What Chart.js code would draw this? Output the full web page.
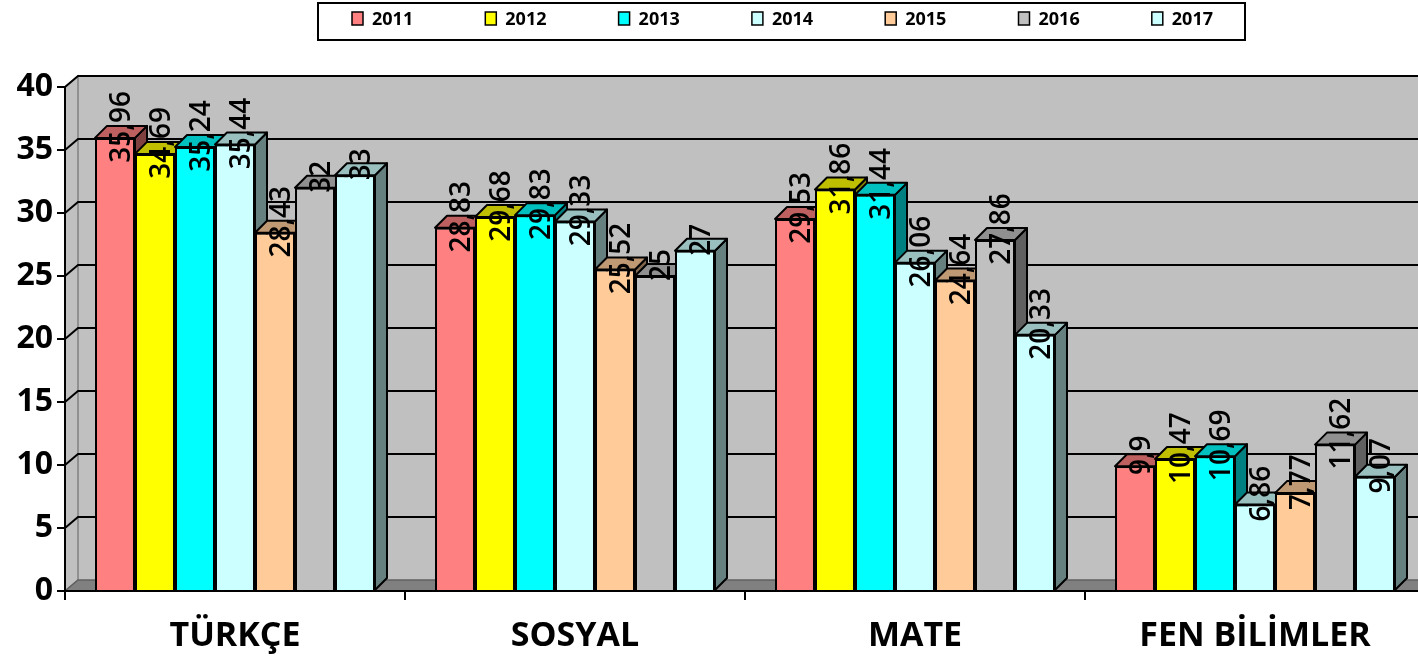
<!DOCTYPE html>
<html>
<head>
<meta charset="utf-8">
<script src="https://cdn.jsdelivr.net/npm/chart.js@4.4.1/dist/chart.umd.min.js"></script>
<style>
  html, body { margin: 0; padding: 0; background: #fff; overflow: hidden; }
  #wrap { width: 1430px; height: 659px; }
</style>
</head>
<body>
<div id="wrap"><canvas id="scoreChart" width="1430" height="659"></canvas></div>
<script>
const categories = ['TÜRKÇE', 'SOSYAL', 'MATE', 'FEN BİLİMLER'];
const years = ['2011', '2012', '2013', '2014', '2015', '2016', '2017'];

const scores2011 = [35.96, 28.83, 29.53, 9.9];
const scores2012 = [34.69, 29.68, 31.86, 10.47];
const scores2013 = [35.24, 29.83, 31.44, 10.69];
const scores2014 = [35.44, 29.33, 26.06, 6.86];
const scores2015 = [28.43, 25.52, 24.64, 7.77];
const scores2016 = [32, 25, 27.86, 11.62];
const scores2017 = [33, 27, 20.33, 9.07];

const yMin = 0;
const yMax = 40;
const yStep = 5;

const seriesValues = [scores2011, scores2012, scores2013, scores2014, scores2015, scores2016, scores2017];
const seriesColors = ['#FF8080', '#FFFF00', '#00FFFF', '#CCFFFF', '#FFCC99', '#C0C0C0', '#CCFFFF'];

// 3D depth offsets (px)
const BAR_DX = 12, BAR_DY = 12;
const WALL_DX = 13, WALL_DY = 11;

/**
 * Darken a hex colour by a factor
 */
function shade(hex, f) {
  const n = parseInt(hex.slice(1), 16);
  const r = Math.round(((n >> 16) & 255) * f);
  const g = Math.round(((n >> 8) & 255) * f);
  const b = Math.round((n & 255) * f);
  return `rgb(${r}, ${g}, ${b})`;
}

function formatValue(v) {
  return String(v).replace('.', ',');
}

/**
 * Back wall, left wall, floor and wall gridlines
 */
const wallPlugin = {
  id: 'wall3d',
  beforeDraw(chart) {
    const { ctx, chartArea, scales } = chart;
    const y = scales.y;
    const left = chartArea.left, right = chartArea.right;
    const top = chartArea.top, bottom = chartArea.bottom;
    ctx.save();

    // back wall
    ctx.fillStyle = '#C0C0C0';
    ctx.fillRect(left + WALL_DX, top - WALL_DY, right - left + 40, bottom - top);

    // left wall
    ctx.beginPath();
    ctx.moveTo(left, top);
    ctx.lineTo(left + WALL_DX, top - WALL_DY);
    ctx.lineTo(left + WALL_DX, bottom - WALL_DY);
    ctx.lineTo(left, bottom);
    ctx.closePath();
    ctx.fillStyle = '#C0C0C0';
    ctx.fill();
    ctx.strokeStyle = '#808080';
    ctx.lineWidth = 1.5;
    ctx.stroke();

    // floor
    ctx.beginPath();
    ctx.moveTo(left, bottom);
    ctx.lineTo(left + WALL_DX, bottom - WALL_DY);
    ctx.lineTo(right + 40, bottom - WALL_DY);
    ctx.lineTo(right + 40, bottom);
    ctx.closePath();
    ctx.fillStyle = '#808080';
    ctx.fill();
    ctx.strokeStyle = '#606060';
    ctx.stroke();

    // gridlines on the walls
    ctx.strokeStyle = '#000';
    ctx.lineWidth = 2;
    for (let v = yMin + yStep; v <= yMax; v += yStep) {
      const py = y.getPixelForValue(v);
      ctx.beginPath();
      ctx.moveTo(left, py);
      ctx.lineTo(left + WALL_DX, py - WALL_DY);
      ctx.lineTo(right + 40, py - WALL_DY);
      ctx.stroke();
    }
    ctx.restore();
  },

  // side and top faces go under the front faces drawn by Chart.js
  beforeDatasetsDraw(chart) {
    const { ctx } = chart;
    const nCats = chart.data.labels.length;
    ctx.save();
    ctx.strokeStyle = '#000';
    ctx.lineWidth = 2;
    ctx.lineJoin = 'round';
    for (let c = 0; c < nCats; c++) {
      chart.data.datasets.forEach((ds, i) => {
        const bar = chart.getDatasetMeta(i).data[c];
        const p = bar.getProps(['x', 'y', 'base', 'width'], true);
        const x0 = p.x - p.width / 2, x1 = p.x + p.width / 2;
        const color = ds.backgroundColor;

        // side
        ctx.beginPath();
        ctx.moveTo(x1, p.y);
        ctx.lineTo(x1 + BAR_DX, p.y - BAR_DY);
        ctx.lineTo(x1 + BAR_DX, p.base - BAR_DY);
        ctx.lineTo(x1, p.base);
        ctx.closePath();
        ctx.fillStyle = shade(color, 0.5);
        ctx.fill();
        ctx.stroke();

        // top
        ctx.beginPath();
        ctx.moveTo(x0, p.y);
        ctx.lineTo(x0 + BAR_DX, p.y - BAR_DY);
        ctx.lineTo(x1 + BAR_DX, p.y - BAR_DY);
        ctx.lineTo(x1, p.y);
        ctx.closePath();
        ctx.fillStyle = shade(color, 0.75);
        ctx.fill();
        ctx.stroke();
      });
    }
    ctx.restore();
  },

  // vertical value labels
  afterDatasetsDraw(chart) {
    const { ctx } = chart;
    ctx.save();
    ctx.fillStyle = '#000';
    ctx.font = '600 28px "Open Sans"';
    ctx.textAlign = 'center';
    ctx.textBaseline = 'middle';
    chart.data.datasets.forEach((ds, i) => {
      chart.getDatasetMeta(i).data.forEach((bar, j) => {
        const p = bar.getProps(['x', 'y'], true);
        ctx.save();
        ctx.translate(p.x + BAR_DX / 2, p.y - 11);
        ctx.rotate(-Math.PI / 2);
        ctx.fillText(formatValue(ds.data[j]), 0, 1);
        ctx.restore();
      });
    });
    ctx.restore();
  },

  // boxed legend at the top
  afterDraw(chart) {
    const { ctx } = chart;
    ctx.save();
    ctx.strokeStyle = '#000';
    ctx.lineWidth = 2;
    ctx.strokeRect(318, 3, 927, 37);
    ctx.font = 'bold 18px "Open Sans"';
    ctx.textBaseline = 'middle';
    chart.data.datasets.forEach((ds, i) => {
      const x = 352 + i * 133.3;
      ctx.fillStyle = ds.backgroundColor;
      ctx.fillRect(x, 12, 11, 13);
      ctx.lineWidth = 1.5;
      ctx.strokeRect(x, 12, 11, 13);
      ctx.fillStyle = '#000';
      ctx.fillText(ds.label, x + 20, 20);
    });
    ctx.restore();
  }
};

const datasets = years.map((yr, i) => ({
  label: yr,
  data: seriesValues[i],
  backgroundColor: seriesColors[i],
  borderColor: '#000',
  borderWidth: 2,
  barPercentage: 1,
  categoryPercentage: 0.8235
}));

new Chart(document.getElementById('scoreChart'), {
  type: 'bar',
  data: { labels: categories, datasets: datasets },
  plugins: [wallPlugin],
  options: {
    responsive: false,
    animation: false,
    devicePixelRatio: 1,
    layout: { padding: { top: 87, right: 5, left: 0, bottom: 0 } },
    plugins: {
      legend: { display: false },
      tooltip: { enabled: false }
    },
    scales: {
      x: {
        afterFit(scale) { scale.height = 68; },
        grid: {
          offset: true,
          drawOnChartArea: false,
          drawTicks: true,
          tickLength: 9,
          color: '#000',
          lineWidth: 2
        },
        border: { color: '#000', width: 2 },
        ticks: {
          color: '#000',
          padding: 16,
          font: { family: 'Open Sans', weight: 'bold', size: 34 }
        }
      },
      y: {
        min: yMin,
        max: yMax,
        afterFit(scale) { scale.width = 65; },
        grid: {
          drawOnChartArea: false,
          drawTicks: true,
          tickLength: 8,
          color: '#000',
          lineWidth: 2
        },
        border: { color: '#000', width: 2 },
        ticks: {
          stepSize: yStep,
          color: '#000',
          padding: 4,
          font: { family: 'Open Sans', weight: 'bold', size: 32 }
        }
      }
    }
  }
});
</script>
</body>
</html>
